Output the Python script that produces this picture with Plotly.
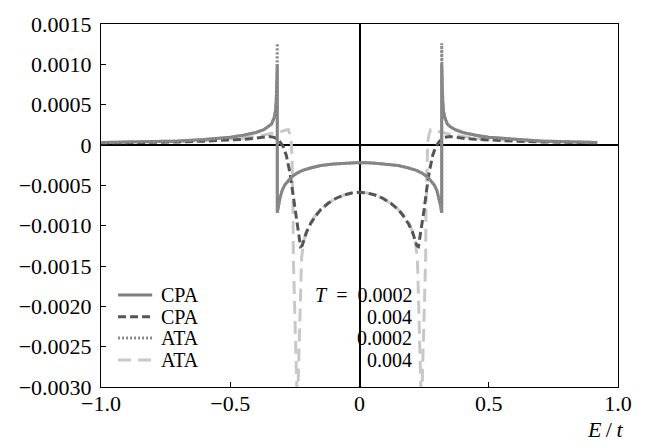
import plotly.graph_objects as go

# ---------------- data ----------------
# CPA, T = 0.0002 (solid)
x_cpa_low = [-1.0, -0.9, -0.8, -0.7, -0.6, -0.5, -0.45, -0.4, -0.37, -0.35, -0.34, -0.33,
             -0.325, -0.322, -0.32, -0.318, -0.318, -0.314, -0.308, -0.3, -0.29, -0.275,
             -0.26, -0.24, -0.22, -0.19, -0.15, -0.1, -0.05, 0.0, 0.05, 0.1, 0.15, 0.19,
             0.22, 0.24, 0.26, 0.275, 0.29, 0.3, 0.308, 0.314, 0.318, 0.318, 0.32, 0.322,
             0.325, 0.33, 0.34, 0.35, 0.37, 0.4, 0.45, 0.5, 0.6, 0.7, 0.8, 0.92]
y_cpa_low = [0.3e-4, 0.34e-4, 0.4e-4, 0.5e-4, 0.68e-4, 0.95e-4, 1.2e-4, 1.55e-4, 1.9e-4,
             2.3e-4, 2.6e-4, 3.4e-4, 4.2e-4, 5.5e-4, 7.5e-4, 10.0e-4, -8.4e-4, -7.6e-4,
             -6.6e-4, -5.7e-4, -5.0e-4, -4.4e-4, -3.9e-4, -3.45e-4, -3.15e-4, -2.85e-4,
             -2.55e-4, -2.35e-4, -2.22e-4, -2.18e-4, -2.22e-4, -2.35e-4, -2.55e-4, -2.85e-4,
             -3.15e-4, -3.45e-4, -3.9e-4, -4.4e-4, -5.0e-4, -5.7e-4, -6.6e-4, -7.6e-4,
             -8.4e-4, 10.0e-4, 7.5e-4, 5.5e-4, 4.2e-4, 3.4e-4, 2.6e-4, 2.3e-4, 1.9e-4,
             1.55e-4, 1.2e-4, 0.95e-4, 0.68e-4, 0.5e-4, 0.4e-4, 0.31e-4]

# ATA, T = 0.0002 (dotted)
x_ata_low = [-1.0, -0.9, -0.8, -0.7, -0.6, -0.5, -0.45, -0.4, -0.37, -0.35, -0.34, -0.33,
             -0.325, -0.322, -0.32, -0.318, -0.318, -0.314, -0.308, -0.3, -0.29, -0.275,
             -0.26, -0.24, -0.22, -0.19, -0.15, -0.1, -0.05, 0.0, 0.05, 0.1, 0.15, 0.19,
             0.22, 0.24, 0.26, 0.275, 0.29, 0.3, 0.308, 0.314, 0.318, 0.318, 0.32, 0.322,
             0.325, 0.33, 0.34, 0.35, 0.37, 0.4, 0.45, 0.5, 0.6, 0.7, 0.8, 0.92]
y_ata_low = [0.3e-4, 0.34e-4, 0.4e-4, 0.5e-4, 0.68e-4, 0.95e-4, 1.2e-4, 1.55e-4, 1.9e-4,
             2.3e-4, 2.6e-4, 3.4e-4, 4.2e-4, 5.5e-4, 7.5e-4, 12.6e-4, -8.4e-4, -7.6e-4,
             -6.6e-4, -5.7e-4, -5.0e-4, -4.4e-4, -3.9e-4, -3.45e-4, -3.15e-4, -2.85e-4,
             -2.55e-4, -2.35e-4, -2.22e-4, -2.18e-4, -2.22e-4, -2.35e-4, -2.55e-4, -2.85e-4,
             -3.15e-4, -3.45e-4, -3.9e-4, -4.4e-4, -5.0e-4, -5.7e-4, -6.6e-4, -7.6e-4,
             -8.4e-4, 12.6e-4, 7.5e-4, 5.5e-4, 4.2e-4, 3.4e-4, 2.6e-4, 2.3e-4, 1.9e-4,
             1.55e-4, 1.2e-4, 0.95e-4, 0.68e-4, 0.5e-4, 0.4e-4, 0.31e-4]

# CPA, T = 0.004 (dark dashed)
x_cpa_high = [-1.0, -0.9, -0.8, -0.7, -0.6, -0.5, -0.45, -0.4, -0.37, -0.35, -0.33, -0.31,
              -0.295, -0.283, -0.27, -0.26, -0.25, -0.242, -0.235, -0.228, -0.222,
              -0.215, -0.205, -0.19, -0.17, -0.15, -0.12, -0.09, -0.06, -0.03, 0.0, 0.03,
              0.06, 0.09, 0.12, 0.15, 0.17, 0.19, 0.205, 0.215, 0.222, 0.228, 0.235, 0.242,
              0.25, 0.26, 0.27, 0.283, 0.295, 0.31, 0.33, 0.35, 0.37, 0.4, 0.45,
              0.5, 0.6, 0.7, 0.8, 0.92]
y_cpa_high = [0.25e-4, 0.28e-4, 0.32e-4, 0.38e-4, 0.48e-4, 0.6e-4, 0.7e-4, 0.85e-4, 1.0e-4,
              1.05e-4, 0.95e-4, 0.5e-4, -0.2e-4, -1.3e-4, -3.3e-4, -5.5e-4, -8.0e-4,
              -9.8e-4, -11.3e-4, -12.6e-4, -12.5e-4, -11.8e-4, -10.8e-4, -9.8e-4, -8.8e-4,
              -8.0e-4, -7.2e-4, -6.6e-4, -6.2e-4, -5.95e-4, -5.85e-4, -5.95e-4, -6.2e-4,
              -6.6e-4, -7.2e-4, -8.0e-4, -8.8e-4, -9.8e-4, -10.8e-4, -11.8e-4, -12.5e-4,
              -12.6e-4, -11.3e-4, -9.8e-4, -8.0e-4, -5.5e-4, -3.3e-4, -1.3e-4,
              -0.2e-4, 0.5e-4, 0.95e-4, 1.05e-4, 1.0e-4, 0.85e-4, 0.7e-4, 0.6e-4, 0.48e-4,
              0.38e-4, 0.32e-4, 0.27e-4]

# ATA, T = 0.004 (light dashed)
x_ata_high = [-1.0, -0.9, -0.8, -0.7, -0.6, -0.5, -0.45, -0.4, -0.35, -0.32, -0.3, -0.285,
              -0.275, -0.268, -0.264, -0.261, -0.259, -0.257, -0.256, -0.25, -0.243, -0.24,
              -0.237, -0.231, -0.224, -0.216, -0.21, -0.2, -0.19, -0.17, -0.15, -0.12,
              -0.09, -0.06, -0.03, 0.0, 0.03, 0.06, 0.09, 0.12, 0.15, 0.17, 0.19, 0.2,
              0.21, 0.216, 0.224, 0.231, 0.237, 0.24, 0.243, 0.25, 0.256, 0.257, 0.259,
              0.261, 0.264, 0.268, 0.275, 0.285, 0.3, 0.32, 0.35, 0.4, 0.45, 0.5, 0.6, 0.7,
              0.8, 0.92]
y_ata_high = [0.3e-4, 0.33e-4, 0.38e-4, 0.45e-4, 0.55e-4, 0.7e-4, 0.85e-4, 1.05e-4, 1.35e-4,
              1.55e-4, 1.7e-4, 1.85e-4, 1.9e-4, 1.2e-4, 0.3e-4, -1.5e-4, -4.0e-4, -8.0e-4,
              -14.0e-4, -21.0e-4, -29.0e-4, -33.0e-4, -29.0e-4, -21.0e-4, -14.0e-4,
              -12.0e-4, -11.2e-4, -10.3e-4, -9.6e-4, -8.7e-4, -8.0e-4, -7.2e-4, -6.6e-4,
              -6.2e-4, -5.95e-4, -5.9e-4, -5.95e-4, -6.2e-4, -6.6e-4, -7.2e-4, -8.0e-4,
              -8.7e-4, -9.6e-4, -10.3e-4, -11.2e-4, -12.0e-4, -14.0e-4, -21.0e-4, -29.0e-4,
              -33.0e-4, -29.0e-4, -21.0e-4, -14.0e-4, -8.0e-4, -4.0e-4, -1.5e-4, 0.3e-4,
              1.2e-4, 1.9e-4, 1.85e-4, 1.7e-4, 1.55e-4, 1.35e-4, 1.05e-4, 0.85e-4, 0.7e-4,
              0.55e-4, 0.45e-4, 0.38e-4, 0.31e-4]

x_tick_vals = [-1.0, -0.5, 0.0, 0.5, 1.0]
x_tick_text = ["\u22121.0", "\u22120.5", "0", "0.5", "1.0"]
y_tick_vals = [0.0015, 0.0010, 0.0005, 0.0, -0.0005, -0.0010, -0.0015, -0.0020, -0.0025, -0.0030]
y_tick_text = ["0.0015", "0.0010", "0.0005", "0", "\u22120.0005", "\u22120.0010",
               "\u22120.0015", "\u22120.0020", "\u22120.0025", "\u22120.0030"]

legend_methods = ["CPA", "CPA", "ATA", "ATA"]
legend_temps = ["<i>T</i>&nbsp;&nbsp;=&nbsp;&nbsp;0.0002", "0.004", "0.0002", "0.004"]

# ---------------- styles ----------------
FONT = "Liberation Serif"
FS = 22
FS_LEG = 20
styles = [
    dict(color="#7f7f7f", width=3, dash="solid"),
    dict(color="#555555", width=3, dash="8px,4px"),
    dict(color="#8c8c8c", width=3, dash="2px,2px"),
    dict(color="#c8c8c8", width=3, dash="13px,7px"),
]

series = [
    (x_cpa_low, y_cpa_low),
    (x_cpa_high, y_cpa_high),
    (x_ata_low, y_ata_low),
    (x_ata_high, y_ata_high),
]

fig = go.Figure()
order = [3, 1, 0, 2]
for i in order:
    xs, ys = series[i]
    fig.add_trace(go.Scatter(x=xs, y=ys, mode="lines", line=styles[i],
                             showlegend=False, hoverinfo="skip"))

axis_common = dict(showgrid=False, showline=True, mirror=True, linecolor="black",
                   linewidth=1, ticks="inside", ticklen=5, tickcolor="black",
                   tickfont=dict(family=FONT, size=FS, color="black"),
                   zeroline=True, zerolinecolor="black", zerolinewidth=1.5,
                   ticklabeloverflow="allow")

fig.update_xaxes(range=[-1, 1], tickmode="array", tickvals=x_tick_vals,
                 ticktext=x_tick_text, ticklabelstandoff=-3, **axis_common)
fig.update_yaxes(range=[-0.0030, 0.0015], tickmode="array", tickvals=y_tick_vals,
                 ticktext=y_tick_text, ticklabelstandoff=4, **axis_common)

rows_y = [0.2535, 0.1935, 0.135, 0.0745]
shapes = []
annotations = []
for k in range(4):
    st = styles[k]
    shapes.append(dict(type="line", xref="paper", yref="paper", x0=0.033, x1=0.099,
                       y0=rows_y[k], y1=rows_y[k],
                       line=dict(color=st["color"], width=st["width"], dash=st["dash"])))
    annotations.append(dict(xref="paper", yref="paper", x=0.112, y=rows_y[k],
                            xanchor="left", yanchor="middle", text=legend_methods[k],
                            showarrow=False,
                            font=dict(family=FONT, size=FS_LEG, color="black")))
    annotations.append(dict(xref="paper", yref="paper", x=0.605, y=rows_y[k],
                            xanchor="right", yanchor="middle", text=legend_temps[k],
                            showarrow=False,
                            font=dict(family=FONT, size=FS_LEG, color="black")))

annotations.append(dict(xref="paper", yref="paper", x=1.014, y=-0.118, xanchor="right",
                        yanchor="middle", text="<i>E</i>\u2009/\u2009<i>t</i>", showarrow=False,
                        font=dict(family=FONT, size=FS, color="black")))

fig.update_layout(width=653, height=448, margin=dict(l=101, r=35, t=15, b=61),
                  plot_bgcolor="white", paper_bgcolor="white",
                  shapes=shapes, annotations=annotations)

fig.write_html("out.html", config={"displayModeBar": False},
               post_script="document.body.style.margin='0px';document.body.style.padding='0px';")
